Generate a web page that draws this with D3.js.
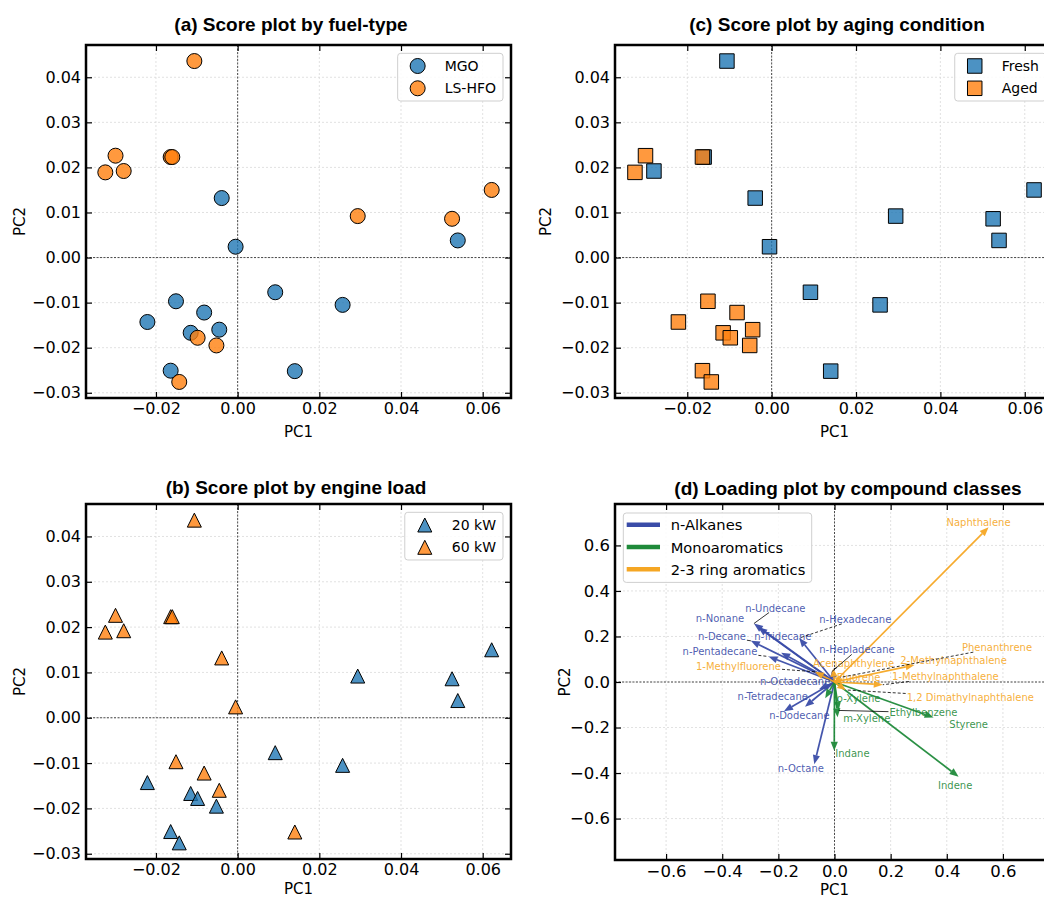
<!DOCTYPE html>
<html>
<head>
<meta charset="utf-8">
<script src="https://cdn.jsdelivr.net/npm/d3@7"></script>
<style>
  body { margin: 0; background: #fff; }
  svg { display: block; font-family: "DejaVu Sans", sans-serif; }
  .title { font-family: "Liberation Sans", Arial, sans-serif; font-weight: bold; font-size: 19px; }
</style>
</head>
<body>
<svg id="fig" width="1044" height="899"></svg>
<script>
// ================= SCORE DATA (24 samples) =================
const pc1 = [-0.0039, -0.0005, 0.0539, 0.0092, 0.0257, -0.0151, -0.0221, -0.0082, -0.0115, -0.0045, -0.0164, 0.0140,
             -0.0106, -0.0299, -0.0324, -0.0279, -0.0164, -0.0160, 0.0294, 0.0525, 0.0622, -0.0098, -0.0052, -0.0143];
const pc2 = [0.0132, 0.0024, 0.0038, -0.0077, -0.0105, -0.0097, -0.0143, -0.0122, -0.0167, -0.0160, -0.0251, -0.0252,
             0.0436, 0.0226, 0.0189, 0.0192, 0.0223, 0.0223, 0.0092, 0.0086, 0.0150, -0.0178, -0.0195, -0.0276];
const fuelType = ["MGO","MGO","MGO","MGO","MGO","MGO","MGO","MGO","MGO","MGO","MGO","MGO",
                  "LS-HFO","LS-HFO","LS-HFO","LS-HFO","LS-HFO","LS-HFO","LS-HFO","LS-HFO","LS-HFO","LS-HFO","LS-HFO","LS-HFO"];
const engineLoad = ["60 kW","60 kW","20 kW","20 kW","20 kW","60 kW","20 kW","60 kW","20 kW","60 kW","20 kW","60 kW",
                    "60 kW","60 kW","60 kW","60 kW","60 kW","60 kW","20 kW","20 kW","20 kW","20 kW","20 kW","20 kW"];
const agingState = ["Fresh","Fresh","Fresh","Fresh","Fresh","Aged","Aged","Aged","Aged","Aged","Aged","Fresh",
                    "Fresh","Aged","Aged","Fresh","Aged","Fresh","Fresh","Fresh","Fresh","Aged","Aged","Aged"];

const fuelGroups = ["MGO", "LS-HFO"];
const loadGroups = ["20 kW", "60 kW"];
const agingGroups = ["Fresh", "Aged"];

const scoreTicksX = [-0.02, 0.00, 0.02, 0.04, 0.06];
const scoreTicksY = [-0.03, -0.02, -0.01, 0.00, 0.01, 0.02, 0.03, 0.04];

// ================= LOADING DATA =================
const compounds = ["n-Octane","n-Nonane","n-Decane","n-Undecane","n-Dodecane","n-Tridecane","n-Tetradecane",
                   "n-Pentadecane","n-Hexadecane","n-Hepladecane","n-Octadecane",
                   "o-Xylene","m-Xylene","Ethylbenzene","Styrene","Indane","Indene",
                   "Naphthalene","Acenaphthylene","Fluorene","Phenanthrene","2-Methylnaphthalene",
                   "1-Methylnaphthalene","1,2 Dimathylnaphthalene","1-Methylfluorene"];
const compoundClass = ["n-Alkanes","n-Alkanes","n-Alkanes","n-Alkanes","n-Alkanes","n-Alkanes","n-Alkanes",
                       "n-Alkanes","n-Alkanes","n-Alkanes","n-Alkanes",
                       "Monoaromatics","Monoaromatics","Monoaromatics","Monoaromatics","Monoaromatics","Monoaromatics",
                       "2-3 ring aromatics","2-3 ring aromatics","2-3 ring aromatics","2-3 ring aromatics","2-3 ring aromatics",
                       "2-3 ring aromatics","2-3 ring aromatics","2-3 ring aromatics"];
const loadPC1 = [-0.072, -0.272, -0.298, -0.287, -0.180, -0.190, -0.105, -0.235, -0.126, -0.010, -0.055,
                 -0.033, 0.011, 0.015, 0.353, -0.001, 0.442,
                 0.549, -0.005, 0.030, 0.020, 0.285, 0.172, 0.040, -0.070];
const loadPC2 = [-0.361, 0.240, 0.181, 0.257, -0.128, 0.129, -0.109, 0.112, 0.193, 0.045, -0.032,
                 -0.071, -0.155, -0.125, -0.156, -0.302, -0.416,
                 0.680, 0.058, 0.014, 0.020, 0.075, -0.012, -0.035, 0.045];
// label anchors (data units, as placed in the figure)
const labelPC1 = [-0.120, -0.408, -0.401, -0.211, -0.125, -0.184, -0.220, -0.408, 0.074, 0.080, -0.140,
                  0.086, 0.115, 0.317, 0.478, 0.064, 0.430,
                  0.513, 0.068, 0.086, 0.579, 0.424, 0.395, 0.484, -0.342];
const labelPC2 = [-0.379, 0.278, 0.200, 0.325, -0.146, 0.200, -0.064, 0.136, 0.275, 0.141, 0.003,
                  -0.071, -0.160, -0.134, -0.186, -0.314, -0.453,
                  0.701, 0.082, 0.021, 0.151, 0.096, 0.022, -0.067, 0.070];
const solidLeaders = ["n-Undecane", "n-Decane", "n-Hepladecane", "Ethylbenzene"];
const dashedLeaders = ["n-Hexadecane", "n-Pentadecane", "1-Methylfluorene", "Acenaphthylene",
                       "Phenanthrene", "1-Methylnaphthalene", "1,2 Dimathylnaphthalene"];

const classNames = ["n-Alkanes", "Monoaromatics", "2-3 ring aromatics"];
const loadTicks = [-0.6, -0.4, -0.2, 0.0, 0.2, 0.4, 0.6];

// ================= STYLE =================
const groupColor = ["#1f77b4", "#ff7f0e"];
const classColor = d3.scaleOrdinal().domain(classNames).range(["#3a4ca8", "#1f8a3a", "#f5a623"]);

const svg = d3.select("#fig");

function padExtent(arr, f) {
  const [a, b] = d3.extent(arr);
  const p = (b - a) * f;
  return [a - p, b + p];
}

// ---------------- common axes frame ----------------
function drawFrame(g, x, y, w, h, xTicks, yTicks) {
  const grid = g.append("g");
  grid.selectAll(".gx").data(xTicks).join("line")
    .attr("x1", d => x(d)).attr("x2", d => x(d)).attr("y1", 0).attr("y2", h)
    .attr("stroke", "#d9d9d9").attr("stroke-width", 0.8).attr("stroke-dasharray", "2,2");
  grid.selectAll(".gy").data(yTicks).join("line")
    .attr("y1", d => y(d)).attr("y2", d => y(d)).attr("x1", 0).attr("x2", w)
    .attr("stroke", "#d9d9d9").attr("stroke-width", 0.8).attr("stroke-dasharray", "2,2");
  // zero lines
  g.append("line").attr("x1", x(0)).attr("x2", x(0)).attr("y1", 0).attr("y2", h)
    .attr("stroke", "#222").attr("stroke-width", 0.8).attr("stroke-dasharray", "2,1.5");
  g.append("line").attr("y1", y(0)).attr("y2", y(0)).attr("x1", 0).attr("x2", w)
    .attr("stroke", "#222").attr("stroke-width", 0.8).attr("stroke-dasharray", "2,1.5");
}

function drawAxes(g, x, y, w, h, xTicks, yTicks, fmt, fs) {
  const style = sel => {
    sel.select(".domain").remove();
    sel.selectAll(".tick line").attr("stroke", "#000").attr("stroke-width", 1.2);
    sel.selectAll("text").attr("font-size", fs).attr("fill", "#000").attr("font-family", "DejaVu Sans");
  };
  g.append("g").attr("transform", `translate(0,${h})`)
    .call(d3.axisBottom(x).tickValues(xTicks).tickFormat(fmt).tickSizeInner(-6).tickSizeOuter(0).tickPadding(5))
    .call(style);
  g.append("g")
    .call(d3.axisLeft(y).tickValues(yTicks).tickFormat(fmt).tickSizeInner(-6).tickSizeOuter(0).tickPadding(5))
    .call(style);
  g.append("g")
    .call(d3.axisTop(x).tickValues(xTicks).tickFormat("").tickSizeInner(-6).tickSizeOuter(0))
    .call(style);
  g.append("g").attr("transform", `translate(${w},0)`)
    .call(d3.axisRight(y).tickValues(yTicks).tickFormat("").tickSizeInner(-6).tickSizeOuter(0))
    .call(style);
  g.append("rect").attr("width", w).attr("height", h)
    .attr("fill", "none").attr("stroke", "#000").attr("stroke-width", 2.5);
}

function axisLabels(g, w, h, xOff, yOff) {
  g.append("text").attr("x", w / 2).attr("y", h + xOff).attr("text-anchor", "middle")
    .attr("font-size", 15).text("PC1");
  g.append("text").attr("transform", `translate(${-yOff},${h / 2}) rotate(-90)`)
    .attr("text-anchor", "middle").attr("dominant-baseline", "central")
    .attr("font-size", 15).text("PC2");
}

// custom matplotlib-like up triangle
const triUp = {
  draw(ctx, size) {
    const r = Math.sqrt(size) / 2;
    ctx.moveTo(0, -r); ctx.lineTo(r, r); ctx.lineTo(-r, r); ctx.closePath();
  }
};

// ---------------- score panels ----------------
function scorePanel(p) {
  const g = svg.append("g").attr("transform", `translate(${p.x0},${p.y0})`);
  const x = d3.scaleLinear().domain(padExtent(pc1, 0.05)).range([0, p.w]);
  const y = d3.scaleLinear().domain(padExtent(pc2, 0.05)).range([p.h, 0]);
  const fmt = d3.format(".2f");

  drawFrame(g, x, y, p.w, p.h, scoreTicksX, scoreTicksY);

  const sym = d3.symbol().type(p.symbol).size(p.size);
  p.groups.forEach((grp, gi) => {
    const idx = d3.range(pc1.length).filter(i => p.groupOf[i] === grp);
    g.append("g").selectAll("path").data(idx).join("path")
      .attr("transform", i => `translate(${x(pc1[i])},${y(pc2[i])})`)
      .attr("d", sym)
      .attr("fill", groupColor[gi]).attr("fill-opacity", 0.8)
      .attr("stroke", "#000").attr("stroke-width", 1);
  });

  drawAxes(g, x, y, p.w, p.h, scoreTicksX, scoreTicksY, fmt, 16);
  axisLabels(g, p.w, p.h, p.xLabelOff, p.yLabelOff);

  // legend (upper right)
  const lg = g.append("g");
  const box = lg.append("rect");
  const texts = p.groups.map((grp, gi) =>
    lg.append("text").attr("x", 47).attr("y", 12.7 + gi * 22.3).attr("dominant-baseline", "central")
      .attr("font-size", 14).text(grp));
  p.groups.forEach((grp, gi) => {
    lg.append("path").attr("transform", `translate(20,${12.7 + gi * 22.3})`)
      .attr("d", sym).attr("fill", groupColor[gi]).attr("fill-opacity", 0.8)
      .attr("stroke", "#000").attr("stroke-width", 1);
  });
  const tw = d3.max(texts, t => t.node().getComputedTextLength());
  const lw = 47 + tw + 7;
  box.attr("width", lw).attr("height", 47.7).attr("rx", 3)
    .attr("fill", "#fff").attr("fill-opacity", 0.85).attr("stroke", "#cfcfcf").attr("stroke-width", 1);
  lg.attr("transform", `translate(${p.w - 8 - lw},8.3)`);

  svg.append("text").attr("class", "title").attr("x", p.titleX).attr("y", p.titleY)
    .attr("text-anchor", "middle").text(p.title);
}

scorePanel({ x0: 86, y0: 45, w: 425, h: 353, groups: fuelGroups, groupOf: fuelType,
  symbol: d3.symbolCircle, size: 177, title: "(a) Score plot by fuel-type", titleX: 291, titleY: 31,
  xLabelOff: 39, yLabelOff: 66 });
scorePanel({ x0: 615, y0: 45, w: 439, h: 353, groups: agingGroups, groupOf: agingState,
  symbol: d3.symbolSquare, size: 210, title: "(c) Score plot by aging condition", titleX: 837, titleY: 31,
  xLabelOff: 39, yLabelOff: 69 });
scorePanel({ x0: 86, y0: 504, w: 425, h: 355, groups: loadGroups, groupOf: engineLoad,
  symbol: triUp, size: 196, title: "(b) Score plot by engine load", titleX: 296, titleY: 494,
  xLabelOff: 35, yLabelOff: 66 });

// ---------------- loading panel ----------------
(function loadingPanel() {
  const p = { x0: 615, y0: 504, w: 439, h: 356 };
  const g = svg.append("g").attr("transform", `translate(${p.x0},${p.y0})`);
  const lim = 1.15 * d3.max(compounds, (c, i) => Math.max(Math.abs(loadPC1[i]), Math.abs(loadPC2[i])));
  const x = d3.scaleLinear().domain([-lim, lim]).range([0, p.w]);
  const y = d3.scaleLinear().domain([-lim, lim]).range([p.h, 0]);
  const fmt = d3.format(".1f");

  drawFrame(g, x, y, p.w, p.h, loadTicks, loadTicks);

  const ox = x(0), oy = y(0);
  const arrows = g.append("g");
  compounds.forEach((c, i) => {
    const tx = x(loadPC1[i]), ty = y(loadPC2[i]);
    const dx = tx - ox, dy = ty - oy, len = Math.hypot(dx, dy);
    const ux = dx / len, uy = dy / len;
    const hl = Math.min(9, len * 0.6), hw = 3.6;
    const bx = tx - ux * hl, by = ty - uy * hl;
    const col = classColor(compoundClass[i]);
    arrows.append("line").attr("x1", ox).attr("y1", oy).attr("x2", bx).attr("y2", by)
      .attr("stroke", col).attr("stroke-width", 1.7).attr("stroke-opacity", 0.95);
    arrows.append("path")
      .attr("d", `M${tx},${ty}L${bx - uy * hw},${by + ux * hw}L${bx + uy * hw},${by - ux * hw}Z`)
      .attr("fill", col).attr("fill-opacity", 0.95);
  });

  // labels + leader lines
  const labels = g.append("g");
  const leaders = g.append("g");
  compounds.forEach((c, i) => {
    const lx = x(labelPC1[i]), ly = y(labelPC2[i]);
    const t = labels.append("text").attr("x", lx).attr("y", ly)
      .attr("text-anchor", "middle").attr("dominant-baseline", "central")
      .attr("font-size", 10).attr("fill", classColor(compoundClass[i])).attr("fill-opacity", 0.9)
      .text(c);
    const solid = solidLeaders.includes(c), dashed = dashedLeaders.includes(c);
    if (!solid && !dashed) return;
    const bb = t.node().getBBox();
    const tx = x(loadPC1[i]), ty = y(loadPC2[i]);
    const ddx = tx - lx, ddy = ty - ly;
    const s = Math.min(ddx !== 0 ? (bb.width / 2 + 1) / Math.abs(ddx) : Infinity,
                       ddy !== 0 ? (bb.height / 2 - 1) / Math.abs(ddy) : Infinity);
    if (s >= 1) return;
    leaders.append("line")
      .attr("x1", lx + ddx * s).attr("y1", ly + ddy * s).attr("x2", tx).attr("y2", ty)
      .attr("stroke", "#000").attr("stroke-width", 0.8)
      .attr("stroke-dasharray", dashed ? "3,2" : null);
  });

  drawAxes(g, x, y, p.w, p.h, loadTicks, loadTicks, fmt, 16.5);
  axisLabels(g, p.w, p.h, 35, 50);

  // legend (upper left)
  const lg = g.append("g").attr("transform", "translate(8.3,9)");
  lg.append("rect").attr("width", 188.4).attr("height", 69.4).attr("rx", 3)
    .attr("fill", "#fff").attr("fill-opacity", 0.85).attr("stroke", "#cfcfcf").attr("stroke-width", 1);
  classNames.forEach((cn, k) => {
    const yy = 11.7 + k * 22.3;
    lg.append("line").attr("x1", 3.4).attr("x2", 36.7).attr("y1", yy).attr("y2", yy)
      .attr("stroke", classColor(cn)).attr("stroke-width", 4.5);
    lg.append("text").attr("x", 47.4).attr("y", yy).attr("dominant-baseline", "central")
      .attr("font-size", 14.7).text(cn);
  });

  svg.append("text").attr("class", "title").attr("x", 848).attr("y", 495)
    .attr("text-anchor", "middle").text("(d) Loading plot by compound classes");
})();
</script>
</body>
</html>
